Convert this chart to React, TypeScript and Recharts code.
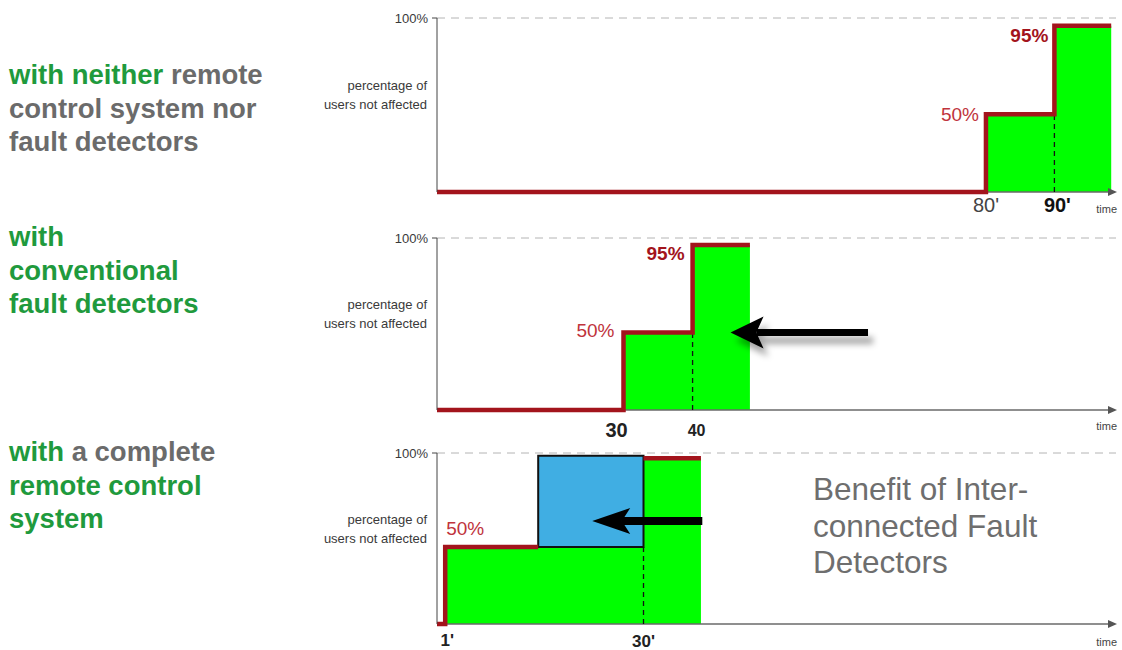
import React from 'react';
import {
  ComposedChart,
  Area,
  Line,
  XAxis,
  YAxis,
  ReferenceLine,
  ReferenceArea,
  ReferenceDot,
} from 'recharts';

// panel 1: neither remote control system nor fault detectors
const p1Times = [-0.2, 80, 90, 98.3];
const p1Levels = [0, 44.7, 95.6, 95.6];
const p1Ticks = [80, 90];
const p1TickLabels = ["80'", "90'"];
const p1MarkTexts = ['50%', '95%'];
const p1MarkTimes = [80, 90];
const p1MarkLevels = [44.7, 95.6];
const p1Domain = [-0.2, 99];

// panel 2: conventional fault detectors
const p2Times = [3, 30, 40, 48.3];
const p2Levels = [0, 45, 96, 96];
const p2Ticks = [30, 40];
const p2TickLabels = ['30', '40'];
const p2MarkTexts = ['50%', '95%'];
const p2MarkTimes = [30, 40];
const p2MarkLevels = [45, 96];
const p2ArrowTimes = [65.4, 45.5];
const p2ArrowLevel = 45;
const p2Domain = [3, 101.3];

// panel 3: complete remote control system
const p3Times = [-0.2, 1, 30, 38.4];
const p3Levels = [0, 45, 97, 97];
const p3RedTimes = [-0.2, 1, 14.6];
const p3RedLevels = [0, 45, 45];
const p3TopTimes = [30, 38.4];
const p3TopLevels = [97, 97];
const p3BenefitTimes = [14.6, 30];
const p3BenefitLevels = [45, 98.4];
const p3Ticks = [1, 30];
const p3TickLabels = ["1'", "30'"];
const p3MarkTexts = ['50%'];
const p3MarkTimes = [1];
const p3MarkLevels = [45];
const p3ArrowTimes = [38.6, 22.5];
const p3ArrowLevel = 60.2;
const p3Domain = [-0.2, 99.1];

const FONT = '"Liberation Sans", Arial, sans-serif';
const NARROW = '"Liberation Sans Narrow", "Arial Narrow", "Liberation Sans", Arial, sans-serif';
const RED = '#a3141c';
const LIME = '#00ff00';
const BLUE = '#40aee3';
const TITLE_GREEN = '#1f9a3d';
const TITLE_GRAY = '#6b6b6b';

type Pt = { t: number; v: number };

const zip = (ts: number[], vs: number[]): Pt[] => ts.map((t, i) => ({ t, v: vs[i] }));

interface TickStyle {
  size: number;
  weight: number;
  color: string;
  dx: number;
  dy: number;
}

interface MarkStyle {
  size: number;
  weight: number;
  color: string;
  anchor: 'start' | 'end';
  dx: number;
  dy: number;
}

function AxisArrow(props: any) {
  const { x1, y1, x2 } = props;
  return (
    <g>
      <line x1={x1} y1={y1} x2={x2 - 4} y2={y1} stroke="#6a6a6a" strokeWidth={1.5} />
      <polygon points={`${x2 + 1},${y1} ${x2 - 8},${y1 - 4} ${x2 - 8},${y1 + 4}`} fill="#555" />
    </g>
  );
}

function BigArrow(props: any) {
  const { x1, y1, x2, head, half, shaft, shadow } = props;
  const dir = Math.sign(x1 - x2) || 1;
  const back = x2 + dir * head;
  const notch = x2 + dir * head * 0.78;
  const id = `shadow-${Math.round(x2)}`;
  return (
    <g>
      {shadow && (
        <defs>
          <filter id={id} x="-20%" y="-60%" width="140%" height="220%">
            <feDropShadow dx="5" dy="8" stdDeviation="3" floodColor="#000" floodOpacity="0.35" />
          </filter>
        </defs>
      )}
      <g filter={shadow ? `url(#${id})` : undefined}>
        <line x1={x1} y1={y1} x2={notch} y2={y1} stroke="#000" strokeWidth={shaft} />
        <polygon
          points={`${x2},${y1} ${back},${y1 - half} ${notch},${y1} ${back},${y1 + half}`}
          fill="#000"
        />
      </g>
    </g>
  );
}

function YTitle(props: any) {
  const { viewBox } = props;
  const x = viewBox.x + viewBox.width - 10;
  const y = viewBox.y + viewBox.height * 0.385;
  return (
    <text
      x={x}
      y={y}
      textAnchor="end"
      dominantBaseline="central"
      fontFamily={FONT}
      fontSize={13}
      fill="#3a3a3a"
    >
      <tspan x={x} y={y}>percentage of</tspan>
      <tspan x={x} y={y + 19}>users not affected</tspan>
    </text>
  );
}

interface PanelProps {
  top: number;
  height: number;
  marginTop: number;
  marginBottom: number;
  domain: number[];
  fill: Pt[];
  red: Pt[][];
  ticks: number[];
  tickLabels: string[];
  tickStyles: TickStyle[];
  marks: (Pt & { text: string })[];
  markStyles: MarkStyle[];
  divider: Pt;
  timeDy: number;
  children?: React.ReactNode;
}

function StepPanel(p: PanelProps) {
  const renderTick = (props: any) => {
    const { x, y, index } = props;
    const s = p.tickStyles[index];
    return (
      <text
        x={x + s.dx}
        y={y + s.dy}
        textAnchor="middle"
        dominantBaseline="central"
        fontFamily={NARROW}
        fontSize={s.size}
        fontWeight={s.weight}
        fill={s.color}
      >
        {p.tickLabels[index]}
      </text>
    );
  };

  const renderTime = (props: any) => {
    const { viewBox } = props;
    return (
      <text
        x={viewBox.x + viewBox.width + 1}
        y={viewBox.y + p.timeDy}
        textAnchor="end"
        dominantBaseline="central"
        fontFamily={NARROW}
        fontSize={11}
        fill="#444"
      >
        time
      </text>
    );
  };

  return (
    <div style={{ position: 'absolute', left: 310, top: p.top }}>
      <ComposedChart
        width={812}
        height={p.height}
        margin={{ top: p.marginTop, right: 6, bottom: p.marginBottom, left: 67 }}
      >
        <XAxis
          type="number"
          dataKey="t"
          domain={p.domain}
          allowDataOverflow
          ticks={p.ticks}
          interval={0}
          axisLine={false}
          tickLine={false}
          tickSize={0}
          tickMargin={0}
          height={24}
          tick={renderTick}
          label={{ content: renderTime }}
        />
        <YAxis
          type="number"
          domain={[0, 100]}
          ticks={[100]}
          width={60}
          tickFormatter={(v: number) => `${v}%`}
          axisLine={{ stroke: '#444', strokeWidth: 1 }}
          tickLine={{ stroke: '#444' }}
          tickSize={5}
          tickMargin={4}
          tick={{ fontSize: 13, fill: '#3a3a3a', fontFamily: FONT }}
          label={{ content: YTitle }}
        />
        <ReferenceLine y={100} stroke="#b4b4b4" strokeDasharray="8 6" zIndex={50} />
        <Area
          data={p.fill}
          type="stepAfter"
          dataKey="v"
          stroke="none"
          fill={LIME}
          fillOpacity={1}
          isAnimationActive={false}
        />
        <ReferenceLine y={0} shape={(s: any) => <AxisArrow {...s} />} zIndex={150} />
        <ReferenceLine
          segment={[{ x: p.divider.t, y: 0 }, { x: p.divider.t, y: p.divider.v }]}
          stroke="#111"
          strokeWidth={1.3}
          strokeDasharray="5 4"
          zIndex={350}
        />
        {p.children}
        {p.red.map((seg, i) => (
          <Line
            key={`red-${i}`}
            data={seg}
            type="stepAfter"
            dataKey="v"
            stroke={RED}
            strokeWidth={4.5}
            strokeLinejoin="miter"
            dot={false}
            activeDot={false}
            isAnimationActive={false}
          />
        ))}
        {p.marks.map((m, i) => {
          const s = p.markStyles[i];
          return (
            <ReferenceDot
              key={`mark-${i}`}
              x={m.t}
              y={m.v}
              r={0}
              zIndex={2000}
              shape={(d: any) => (
                <text
                  x={d.cx + s.dx}
                  y={d.cy + s.dy}
                  textAnchor={s.anchor}
                  dominantBaseline="central"
                  fontFamily={FONT}
                  fontSize={s.size}
                  fontWeight={s.weight}
                  fill={s.color}
                >
                  {m.text}
                </text>
              )}
            />
          );
        })}
      </ComposedChart>
    </div>
  );
}

const markLight: MarkStyle = { size: 19, weight: 400, color: '#c0333c', anchor: 'end', dx: -7, dy: 0 };
const markBold: MarkStyle = { size: 19, weight: 700, color: '#a3141c', anchor: 'end', dx: -6, dy: 10 };

export default function App() {
  const p1Marks = p1MarkTexts.map((text, i) => ({ text, t: p1MarkTimes[i], v: p1MarkLevels[i] }));
  const p2Marks = p2MarkTexts.map((text, i) => ({ text, t: p2MarkTimes[i], v: p2MarkLevels[i] }));
  const p3Marks = p3MarkTexts.map((text, i) => ({ text, t: p3MarkTimes[i], v: p3MarkLevels[i] }));

  const titleStyle: React.CSSProperties = {
    position: 'absolute',
    left: 9,
    fontFamily: FONT,
    fontWeight: 700,
    fontSize: 27.5,
    lineHeight: '33.5px',
    color: TITLE_GREEN,
    whiteSpace: 'nowrap',
  };

  return (
    <div
      style={{
        position: 'absolute',
        left: 0,
        top: 0,
        width: 1122,
        height: 650,
        background: '#fff',
        overflow: 'hidden',
      }}
    >
      <div style={{ ...titleStyle, top: 58 }}>
        with neither <span style={{ color: TITLE_GRAY }}>remote</span>
        <br />
        <span style={{ color: TITLE_GRAY }}>control system nor</span>
        <br />
        <span style={{ color: TITLE_GRAY }}>fault detectors</span>
      </div>
      <div style={{ ...titleStyle, top: 220 }}>
        with
        <br />
        conventional
        <br />
        fault detectors
      </div>
      <div style={{ ...titleStyle, top: 435 }}>
        with <span style={{ color: TITLE_GRAY }}>a complete</span>
        <br />
        remote control
        <br />
        system
      </div>

      <StepPanel
        top={0}
        height={222}
        marginTop={18}
        marginBottom={6}
        domain={p1Domain}
        fill={zip(p1Times, p1Levels)}
        red={[zip(p1Times, p1Levels)]}
        ticks={p1Ticks}
        tickLabels={p1TickLabels}
        tickStyles={[
          { size: 20, weight: 400, color: '#444', dx: 0, dy: 13 },
          { size: 20, weight: 700, color: '#111', dx: 3, dy: 13 },
        ]}
        marks={p1Marks}
        markStyles={[markLight, markBold]}
        divider={{ t: 90, v: 44.7 }}
        timeDy={17}
      />

      <StepPanel
        top={222}
        height={218}
        marginTop={16}
        marginBottom={6}
        domain={p2Domain}
        fill={zip(p2Times, p2Levels)}
        red={[zip(p2Times, p2Levels)]}
        ticks={p2Ticks}
        tickLabels={p2TickLabels}
        tickStyles={[
          { size: 20, weight: 700, color: '#222', dx: -7, dy: 20 },
          { size: 16, weight: 700, color: '#222', dx: 4, dy: 20 },
        ]}
        marks={p2Marks}
        markStyles={[{ ...markLight, dx: -9, dy: -2 }, { ...markBold, dx: -8, dy: 9 }]}
        divider={{ t: 40, v: 45 }}
        timeDy={16}
      >
        <ReferenceLine
          segment={[{ x: p2ArrowTimes[0], y: p2ArrowLevel }, { x: p2ArrowTimes[1], y: p2ArrowLevel }]}
          zIndex={700}
          shape={(s: any) => <BigArrow {...s} head={33} half={16} shaft={7} shadow />}
        />
      </StepPanel>

      <StepPanel
        top={440}
        height={210}
        marginTop={13}
        marginBottom={2}
        domain={p3Domain}
        fill={zip(p3Times, p3Levels)}
        red={[zip(p3RedTimes, p3RedLevels), zip(p3TopTimes, p3TopLevels)]}
        ticks={p3Ticks}
        tickLabels={p3TickLabels}
        tickStyles={[
          { size: 17, weight: 700, color: '#222', dx: 2, dy: 16 },
          { size: 17, weight: 700, color: '#222', dx: 0, dy: 17 },
        ]}
        marks={p3Marks}
        markStyles={[{ ...markLight, anchor: 'start', dx: 1, dy: -19 }]}
        divider={{ t: 30, v: 45 }}
        timeDy={18}
      >
        <ReferenceArea
          x1={p3BenefitTimes[0]}
          x2={p3BenefitTimes[1]}
          y1={p3BenefitLevels[0]}
          y2={p3BenefitLevels[1]}
          fill={BLUE}
          fillOpacity={1}
          stroke="#111"
          strokeWidth={2}
          zIndex={300}
        />
        <ReferenceLine
          segment={[{ x: p3ArrowTimes[0], y: p3ArrowLevel }, { x: p3ArrowTimes[1], y: p3ArrowLevel }]}
          zIndex={700}
          shape={(s: any) => <BigArrow {...s} head={38} half={13} shaft={8} />}
        />
      </StepPanel>

      <div
        style={{
          position: 'absolute',
          left: 813,
          top: 471,
          fontFamily: FONT,
          fontSize: 31.5,
          lineHeight: '36.5px',
          color: '#6e6e6e',
          whiteSpace: 'nowrap',
        }}
      >
        Benefit of Inter-
        <br />
        connected Fault
        <br />
        Detectors
      </div>
    </div>
  );
}
